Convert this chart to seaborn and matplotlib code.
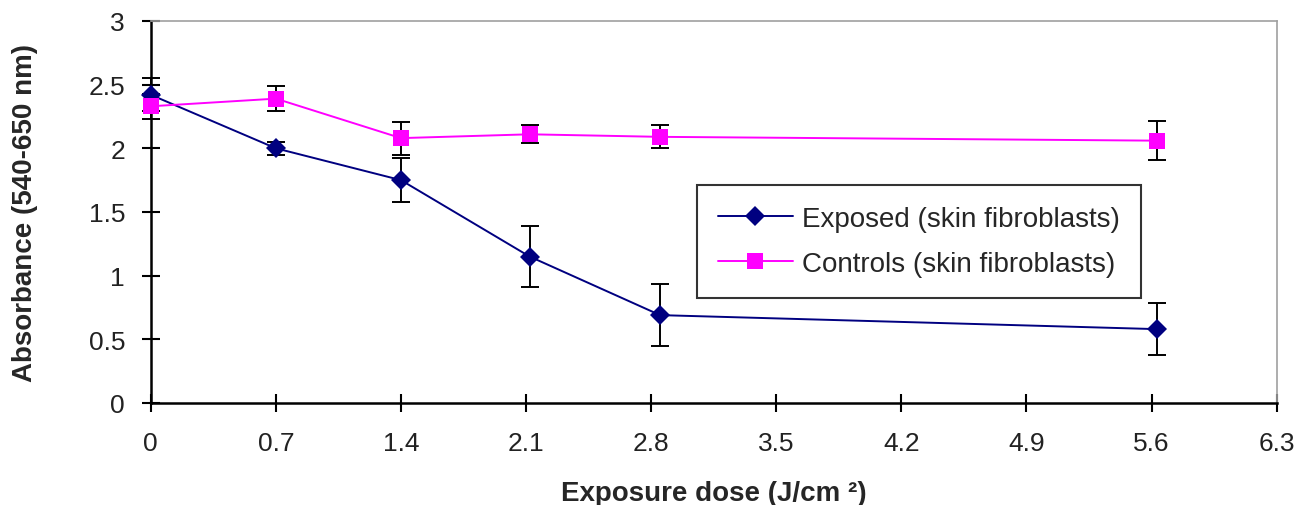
import matplotlib
matplotlib.use("Agg")
import matplotlib.pyplot as plt
import seaborn as sns
import pandas as pd
import numpy as np

# Data
dose = [0, 0.7, 1.4, 2.12, 2.85, 5.63]
exposed = [2.42, 2.00, 1.75, 1.15, 0.69, 0.58]
exposed_err = [0.13, 0.05, 0.17, 0.24, 0.245, 0.205]
controls = [2.33, 2.39, 2.08, 2.11, 2.09, 2.06]
controls_err = [0.10, 0.10, 0.13, 0.07, 0.09, 0.155]
xticks = [0, 0.7, 1.4, 2.1, 2.8, 3.5, 4.2, 4.9, 5.6, 6.3]
yticks = [0, 0.5, 1, 1.5, 2, 2.5, 3]
labels = ["Exposed (skin fibroblasts)", "Controls (skin fibroblasts)"]

sns.set_theme(style="white")
plt.rcParams['font.family'] = ['Liberation Sans', 'DejaVu Sans']

fig = plt.figure(figsize=(13, 5.06), dpi=100)
ax = fig.add_axes([0.116, 0.2016, 0.866, 0.755])

df = pd.DataFrame({
    "dose": dose * 2,
    "abs": exposed + controls,
    "series": [labels[0]] * len(dose) + [labels[1]] * len(dose),
})

# error bars
for yv, ev in [(exposed, exposed_err), (controls, controls_err)]:
    eb = ax.errorbar(dose, yv, yerr=ev, fmt='none', ecolor='black',
                     elinewidth=1.4, capsize=6.5, capthick=1.4, zorder=2)
    for art in eb.lines[1] + eb.lines[2]:
        art.set_clip_on(False)

sns.lineplot(data=df, x="dose", y="abs", hue="series", style="series",
             palette=["#000080", "#FF00FF"], markers=["D", "s"], dashes=False,
             markersize=10, markeredgewidth=0, linewidth=1.4, ax=ax, zorder=3,
             sort=False)
handles, labs = ax.get_legend_handles_labels()
for ln in list(ax.lines) + list(handles):
    ln.set_clip_on(False)
    if ln.get_marker() == 'D':
        ln.set_markersize(9.8)
    elif ln.get_marker() == 's':
        ln.set_markersize(11.5)

ax.set_xlim(0, 6.3)
ax.set_ylim(0, 3)
ax.set_xticks(xticks)
ax.set_xticklabels([f"{t:g}" for t in xticks])
ax.set_yticks(yticks)
ax.set_yticklabels([f"{t:g}" for t in yticks])
ax.tick_params(axis='both', direction='inout', length=13, width=1.5,
               colors='black', labelsize=19, labelcolor='#222222')
ax.tick_params(axis='x', pad=14)
ax.tick_params(axis='y', pad=12)
ax.tick_params(bottom=True, left=True)

for s in ['left', 'bottom']:
    ax.spines[s].set_color('black')
    ax.spines[s].set_linewidth(1.8)
for s in ['top', 'right']:
    ax.spines[s].set_color('#a0a0a0')
    ax.spines[s].set_linewidth(1.2)

ax.set_xlabel("Exposure dose (J/cm ²)", fontsize=20, fontweight='bold', labelpad=18)
ax.set_ylabel("Absorbance (540-650 nm)", fontsize=20, fontweight='bold', labelpad=36)

leg = ax.legend(handles, labs, loc='upper left', bbox_to_anchor=(0.485, 0.571),
                frameon=True, fancybox=False, fontsize=20, handlelength=2.7,
                handletextpad=0.35, borderpad=0.75, labelspacing=0.7,
                borderaxespad=0, title=None)
leg.get_frame().set_edgecolor('black')
leg.get_frame().set_linewidth(1.5)

fig.savefig("out.png", dpi=100)
